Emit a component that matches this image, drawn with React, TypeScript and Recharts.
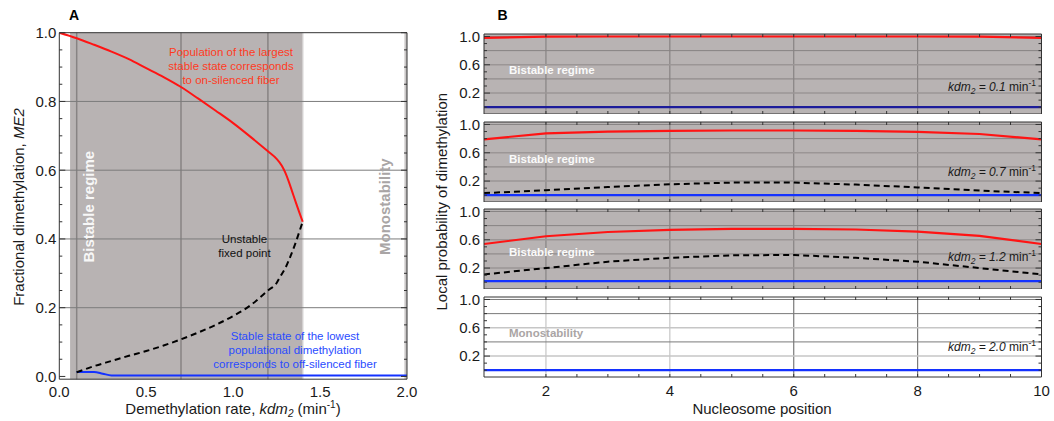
import React from "react";
import { LineChart, Line, XAxis, YAxis, ReferenceArea, ReferenceLine } from "recharts";

// ---- Panel A: fixed points of the population model vs demethylation rate ----
const upperKdm = [0, 0.1, 0.2, 0.3, 0.4, 0.5, 0.6, 0.7, 0.8, 0.9, 1.0, 1.1, 1.2, 1.25, 1.28, 1.3, 1.32, 1.34, 1.36, 1.38, 1.4];
const upperMe2 = [1.0, 0.984, 0.965, 0.945, 0.923, 0.897, 0.871, 0.842, 0.808, 0.773, 0.737, 0.697, 0.655, 0.633, 0.613, 0.593, 0.567, 0.537, 0.507, 0.478, 0.45];
const unstableKdm = [0.1, 0.2, 0.3, 0.4, 0.5, 0.6, 0.7, 0.8, 0.9, 1.0, 1.1, 1.2, 1.25, 1.27, 1.3, 1.33, 1.36, 1.38, 1.4];
const unstableMe2 = [0.012, 0.03, 0.045, 0.06, 0.074, 0.09, 0.108, 0.128, 0.15, 0.176, 0.207, 0.25, 0.272, 0.29, 0.315, 0.35, 0.39, 0.42, 0.45];
const lowerKdm = [0.1, 0.2, 0.25, 0.3, 1.0, 2.0];
const lowerMe2 = [0.013, 0.013, 0.008, 0.003, 0.003, 0.003];
const kdmTicks = [0, 0.5, 1, 1.5, 2];
const me2Ticks = [0, 0.2, 0.4, 0.6, 0.8, 1];
const kdmGrid = [0.1, 0.7, 1.2];
const bistableFrom = 0.062;
const bistableTo = 1.4;

// ---- Panel B: local probability along the fiber, one row per kdm2 ----
const positions = [1, 2, 3, 4, 5, 6, 7, 8, 9, 10];
const kdmValues = ["0.1", "0.7", "1.2", "2.0"];
const high01 = [0.98, 0.998, 1, 1, 1, 1, 1, 1, 0.998, 0.98];
const high07 = [0.79, 0.875, 0.9, 0.91, 0.915, 0.915, 0.91, 0.895, 0.865, 0.79];
const high12 = [0.54, 0.65, 0.71, 0.74, 0.755, 0.755, 0.745, 0.715, 0.655, 0.54];
const mid07 = [0.03, 0.07, 0.115, 0.155, 0.178, 0.178, 0.15, 0.11, 0.065, 0.03];
const mid12 = [0.11, 0.2, 0.29, 0.345, 0.38, 0.385, 0.345, 0.29, 0.2, 0.11];
const low01 = [0, 0, 0, 0, 0, 0, 0, 0, 0, 0];
const low07 = [0, 0, 0, 0, 0, 0, 0, 0, 0, 0];
const low12 = [0.015, 0.015, 0.015, 0.015, 0.015, 0.015, 0.015, 0.015, 0.015, 0.015];
const low20 = [0, 0, 0, 0, 0, 0, 0, 0, 0, 0];
const positionTicks = [2, 4, 6, 8, 10];
const probTicks = [0.2, 0.6, 1.0];

const FONT = "'Liberation Sans', Arial, Helvetica, sans-serif";
const GRAY = "#b8b3b3";
const GRID = "#878383";
const FRAME = "#333";
const RED = "#ff1414";
const BLUE = "#1432ff";
const NAVY = "#1c1c9a";
const INK = "#1a1a1a";

const pts = (xs: number[], ys: number[]) => xs.map((x, i) => ({ x, y: ys[i] }));
const span = (from: number, to: number, step: number) => {
  const out: number[] = [];
  for (let v = from; v <= to + 1e-9; v += step) out.push(Math.round(v * 1000) / 1000);
  return out;
};

// inward tick marks drawn from the plot edge
const edgeTick = (dx: number, dy: number, major: number[], minorLen: number, majorLen: number) =>
  (props: any) => {
    const { x, y, payload } = props;
    const big = major.some((m) => Math.abs(m - payload.value) < 1e-6);
    const len = big ? majorLen : minorLen;
    return <line x1={x} y1={y} x2={x + dx * len} y2={y + dy * len} stroke={FRAME} strokeWidth={1} />;
  };

function frameAxes(xd: number[], yd: number[], xMinor: number[], xMajor: number[], yMinor: number[], yMajor: number[]) {
  const common = {
    type: "number" as const,
    mirror: true,
    allowDataOverflow: true,
    tickLine: false,
    tickSize: 0,
    tickMargin: 0,
    interval: 0 as const,
    axisLine: { stroke: FRAME, strokeWidth: 1 },
  };
  return [
    <XAxis key="fb" xAxisId="fb" orientation="bottom" height={10} domain={xd} ticks={xMinor} tick={edgeTick(0, -1, xMajor, 3, 6)} {...common} />,
    <XAxis key="ft" xAxisId="ft" orientation="top" height={10} domain={xd} ticks={xMinor} tick={edgeTick(0, 1, xMajor, 3, 6)} {...common} />,
    <YAxis key="fl" yAxisId="fl" orientation="left" width={10} domain={yd} ticks={yMinor} tick={edgeTick(1, 0, yMajor, 3, 6)} {...common} />,
    <YAxis key="fr" yAxisId="fr" orientation="right" width={10} domain={yd} ticks={yMinor} tick={edgeTick(-1, 0, yMajor, 3, 6)} {...common} />,
  ];
}

const tickFont = { fontSize: 15, fill: INK };
const fmt1 = (v: number) => v.toFixed(1);

function PanelA() {
  const yd = [-0.008, 1];
  return (
    <LineChart width={430} height={421} margin={{ top: 32.7, right: 23, bottom: 13.8, left: 0 }}>
      <XAxis dataKey="x" type="number" domain={[0, 2]} ticks={kdmTicks} allowDataOverflow height={28}
        axisLine={false} tickLine={false} tickSize={0} tickMargin={7} interval={0} tick={tickFont} tickFormatter={fmt1} />
      <YAxis type="number" domain={yd} ticks={me2Ticks} allowDataOverflow width={59.3}
        axisLine={false} tickLine={false} tickSize={0} tickMargin={3} interval={0} tick={tickFont} tickFormatter={fmt1} />
      <ReferenceArea x1={bistableFrom} x2={bistableTo} y1={yd[0]} y2={yd[1]} fill={GRAY} fillOpacity={1} stroke="none" />
      <ReferenceArea x1={1.985} x2={2} y1={yd[0]} y2={yd[1]} fill="#cac7c7" fillOpacity={1} stroke="none" />
      {kdmGrid.map((v) => (
        <ReferenceLine key={"v" + v} x={v} stroke={GRID} strokeWidth={1.5} />
      ))}
      <ReferenceLine x={bistableTo} stroke="#d2cfcf" strokeWidth={1.5} />
      {[0.2, 0.4, 0.6, 0.8].map((v) => (
        <ReferenceLine key={"h" + v} y={v} stroke="#7c7c7c" strokeWidth={1} />
      ))}
      {frameAxes([0, 2], yd, span(0, 2, 0.1), kdmTicks, span(0, 1, 0.05), me2Ticks)}
      <Line data={pts(lowerKdm, lowerMe2)} dataKey="y" type="monotone" stroke={BLUE} strokeWidth={2} dot={false} isAnimationActive={false} />
      <Line data={pts(unstableKdm, unstableMe2)} dataKey="y" type="monotone" stroke="#000" strokeWidth={2} strokeDasharray="6 4" dot={false} isAnimationActive={false} />
      <Line data={pts(upperKdm, upperMe2)} dataKey="y" type="monotone" stroke={RED} strokeWidth={2} dot={false} isAnimationActive={false} />
    </LineChart>
  );
}

const SUB_TOPS = [34, 121.5, 208.5, 296.7];
const SUB_H = 80;
const SUB_PAD = 10; // room above each plot for the "1.0" label
const probDomain = [-0.096, 1.035];

const profiles = [
  { kdm: kdmValues[0], high: high01, mid: null as number[] | null, low: low01, bistable: true, lowColor: NAVY },
  { kdm: kdmValues[1], high: high07, mid: mid07, low: low07, bistable: true, lowColor: BLUE },
  { kdm: kdmValues[2], high: high12, mid: mid12, low: low12, bistable: true, lowColor: BLUE },
  { kdm: kdmValues[3], high: null as number[] | null, mid: null as number[] | null, low: low20, bistable: false, lowColor: BLUE },
];

function ProfilePanel({ i }: { i: number }) {
  const p = profiles[i];
  const last = i === profiles.length - 1;
  const rows = positions.map((pos, k) => ({
    pos,
    high: p.high ? p.high[k] : null,
    mid: p.mid ? p.mid[k] : null,
    low: p.low[k],
  }));
  const lightGrid = p.bistable ? "#9b9696" : "#c6c6c6";
  const darkGrid = p.bistable ? GRID : "#7a7a7a";
  return (
    <div style={{ position: "absolute", left: 430, top: SUB_TOPS[i] - SUB_PAD }}>
      <LineChart width={624} height={SUB_H + SUB_PAD + (last ? 30 : 0)} data={rows} margin={{ top: SUB_PAD, right: 12.5, bottom: 0, left: 0 }}>
        <XAxis dataKey="pos" type="number" domain={[1, 10]} ticks={positionTicks} allowDataOverflow hide={!last} height={30}
          axisLine={false} tickLine={false} tickSize={0} tickMargin={8} interval={0} tick={tickFont} />
        <YAxis type="number" domain={probDomain} ticks={probTicks} allowDataOverflow width={54}
          axisLine={false} tickLine={false} tickSize={0} tickMargin={4} interval={0} tick={tickFont} tickFormatter={fmt1} />
        {p.bistable && (
          <ReferenceArea x1={1} x2={10} y1={probDomain[0]} y2={probDomain[1]} fill={GRAY} fillOpacity={1} stroke="none" />
        )}
        {positionTicks.slice(0, 4).map((v) => (
          <ReferenceLine key={"v" + v} x={v} stroke={!p.bistable && v < 5 ? "#c6c6c6" : darkGrid} strokeWidth={1.2} />
        ))}
        {[0.2, 0.6].map((v) => (
          <ReferenceLine key={"l" + v} y={v} stroke={lightGrid} strokeWidth={1.5} />
        ))}
        {[0.4, 0.8, 1.0].map((v) => (
          <ReferenceLine key={"d" + v} y={v} stroke={darkGrid} strokeWidth={1} />
        ))}
        {frameAxes([1, 10], probDomain, span(1, 10, 0.5), [], span(0, 1, 0.1), probTicks)}
        <Line dataKey="low" type="linear" stroke={p.lowColor} strokeWidth={2.2} dot={false} isAnimationActive={false} />
        {p.mid && (
          <Line dataKey="mid" type="linear" stroke="#000" strokeWidth={2} strokeDasharray="6 4" dot={false} isAnimationActive={false} />
        )}
        {p.high && (
          <Line dataKey="high" type="linear" stroke={RED} strokeWidth={2.2} dot={false} isAnimationActive={false} />
        )}
      </LineChart>
    </div>
  );
}

const kdmCenters = [86.7, 171.7, 257.3, 346.7];
const regimeCenters = [70, 159, 251.7, 333.3];

function Annotations() {
  return (
    <svg width={1054} height={421} style={{ position: "absolute", left: 0, top: 0, pointerEvents: "none" }} fontFamily={FONT}>
      <text x={69} y={20} fontSize={14} fontWeight="bold" fill="#000">A</text>
      <text x={497.5} y={20} fontSize={14} fontWeight="bold" fill="#000">B</text>

      <g fontSize={11.5} fill="#ff3b1f" textAnchor="middle">
        <text x={231} y={56.3}>Population of the largest</text>
        <text x={231} y={70}>stable state corresponds</text>
        <text x={231} y={84}>to on-silenced fiber</text>
      </g>
      <g fontSize={11.5} fill="#111" textAnchor="middle">
        <text x={244.5} y={243.3}>Unstable</text>
        <text x={244.5} y={256.7}>fixed point</text>
      </g>
      <g fontSize={11.5} fill="#2a4bff" textAnchor="middle">
        <text x={295} y={340}>Stable state of the lowest</text>
        <text x={295} y={354}>populational dimethylation</text>
        <text x={295} y={368}>corresponds to off-silenced fiber</text>
      </g>
      <text transform="translate(89,206.7) rotate(-90)" dy="0.35em" textAnchor="middle" fontSize={15} fontWeight="bold" fill="#f7f7f7">
        Bistable regime
      </text>
      <text transform="translate(385,206.7) rotate(-90)" dy="0.35em" textAnchor="middle" fontSize={15} fontWeight="bold" fill="#a9a5a5">
        Monostability
      </text>

      <text transform="translate(19,207) rotate(-90)" dy="0.35em" textAnchor="middle" fontSize={15} fill={INK}>
        Fractional dimethylation, <tspan fontStyle="italic">ME2</tspan>
      </text>
      <text x={233} y={414} textAnchor="middle" fontSize={15} fill={INK}>
        Demethylation rate, <tspan fontStyle="italic">kdm</tspan>
        <tspan fontStyle="italic" fontSize={10} dy={3}>2</tspan>
        <tspan dy={-3}> (min</tspan>
        <tspan fontSize={10} dy={-6}>-1</tspan>
        <tspan dy={6}>)</tspan>
      </text>

      <text transform="translate(442,201.7) rotate(-90)" dy="0.35em" textAnchor="middle" fontSize={15} fill={INK}>
        Local probability of dimethylation
      </text>
      <text x={762} y={414} textAnchor="middle" fontSize={15} fill={INK}>
        Nucleosome position
      </text>

      {profiles.map((p, i) => (
        <text key={"r" + i} x={509} y={regimeCenters[i] + 4} fontSize={11.5} fontWeight="bold" fill={p.bistable ? "#fafafa" : "#aaa5a5"}>
          {p.bistable ? "Bistable regime" : "Monostability"}
        </text>
      ))}
      {profiles.map((p, i) => (
        <text key={"k" + i} x={1036} y={kdmCenters[i] + 4} textAnchor="end" fontSize={12} fill={INK}>
          <tspan fontStyle="italic">kdm</tspan>
          <tspan fontStyle="italic" fontSize={8.5} dy={3}>2</tspan>
          <tspan fontStyle="italic" dy={-3}>{" = " + p.kdm}</tspan>
          <tspan>{" min"}</tspan>
          <tspan fontSize={8.5} dy={-5}>-1</tspan>
        </text>
      ))}
    </svg>
  );
}

export default function App() {
  return (
    <div style={{ position: "absolute", left: 0, top: 0, width: 1054, height: 421, background: "#fff", fontFamily: FONT }}>
      <div style={{ position: "absolute", left: 0, top: 0 }}>
        <PanelA />
      </div>
      {profiles.map((_, i) => (
        <ProfilePanel key={i} i={i} />
      ))}
      <Annotations />
    </div>
  );
}
